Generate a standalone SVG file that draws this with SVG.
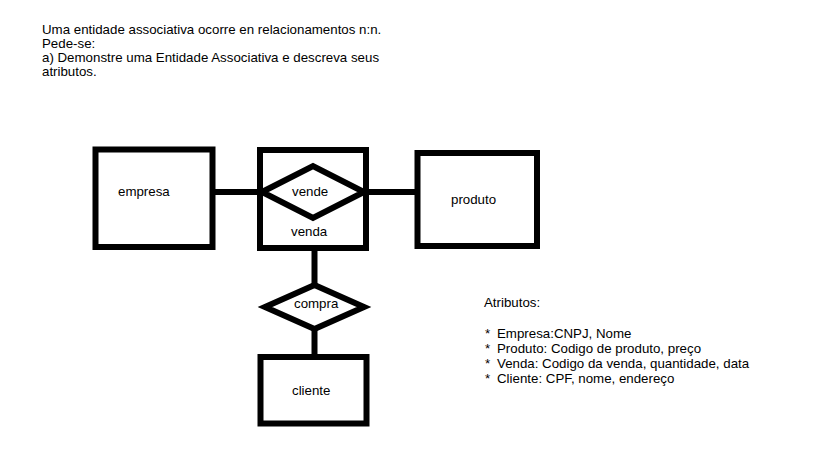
<svg xmlns="http://www.w3.org/2000/svg" width="819" height="460" viewBox="0 0 819 460">
<style>
  .box { fill: #fff; stroke: #000; stroke-width: 6; }
  .dia { fill: #fff; stroke: #000; stroke-width: 6; stroke-linejoin: miter; stroke-miterlimit: 10; }
  .conn { stroke: #000; stroke-width: 6; fill: none; }
  text { font-family: "Liberation Sans", Arial, sans-serif; font-size: 13.3px; fill: #000; }
</style>
<rect width="819" height="460" fill="#fff"/>
<g id="question">
  <text x="42" y="34">Uma entidade associativa ocorre en relacionamentos n:n.</text>
  <text x="42" y="48">Pede-se:</text>
  <text x="42" y="62">a) Demonstre uma Entidade Associativa e descreva seus</text>
  <text x="42" y="76">atributos.</text>
</g>
<g id="connectors">
  <line class="conn" x1="212" y1="192" x2="262" y2="192"/>
  <line class="conn" x1="364" y1="192" x2="417" y2="192"/>
  <line class="conn" x1="314.5" y1="248" x2="314.5" y2="286"/>
  <line class="conn" x1="314.5" y1="328" x2="314.5" y2="358"/>
</g>
<g id="empresa">
  <rect class="box" x="95.5" y="149.5" width="117" height="97.5"/>
  <text x="118" y="196">empresa</text>
</g>
<g id="venda">
  <rect class="box" x="260" y="150" width="106" height="98"/>
  <text x="291" y="236">venda</text>
</g>
<g id="vende">
  <polygon class="dia" points="262,192 313,166 364,192 313,218"/>
  <text x="292" y="196">vende</text>
</g>
<g id="produto">
  <rect class="box" x="417.5" y="153" width="119.5" height="93"/>
  <text x="451" y="204">produto</text>
</g>
<g id="compra">
  <polygon class="dia" points="265,307 314.5,285 364,307 314.5,329"/>
  <text x="294" y="308">compra</text>
</g>
<g id="cliente">
  <rect class="box" x="260.5" y="357" width="106" height="66.5"/>
  <text x="292" y="395">cliente</text>
</g>
<g id="atributos">
  <text x="484" y="307">Atributos:</text>
  <text x="485" y="338">*</text>
  <text x="497" y="338">Empresa:CNPJ, Nome</text>
  <text x="485" y="353">*</text>
  <text x="497" y="353">Produto: Codigo de produto, preço</text>
  <text x="485" y="368">*</text>
  <text x="497" y="368">Venda: Codigo da venda, quantidade, data</text>
  <text x="485" y="383">*</text>
  <text x="497" y="383">Cliente: CPF, nome, endereço</text>
</g>
</svg>
